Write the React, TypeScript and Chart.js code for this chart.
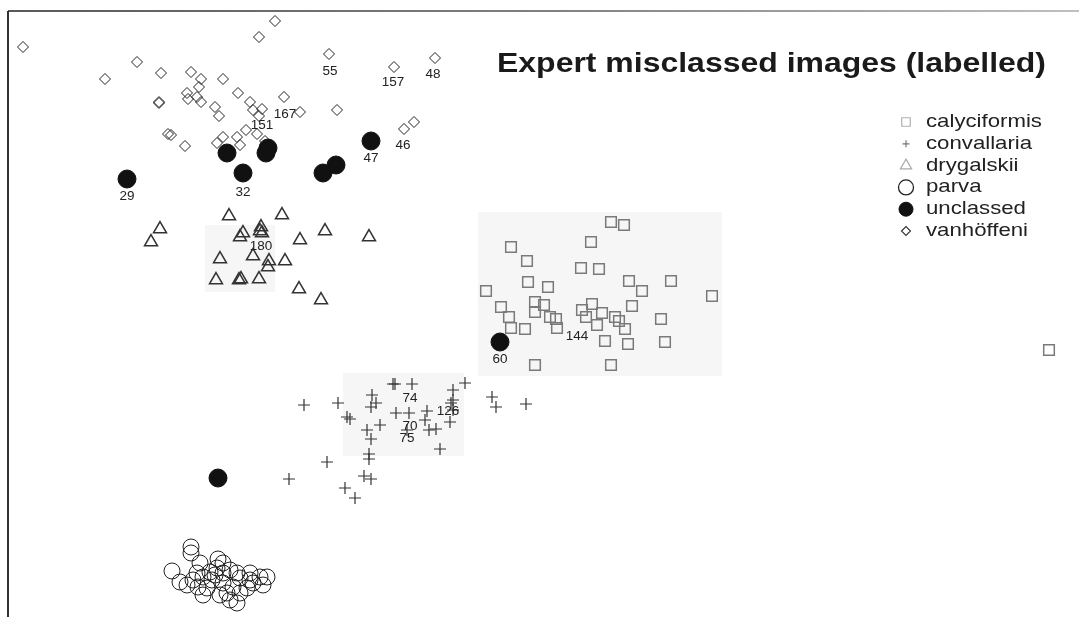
import React, { useEffect, useRef } from 'react';
import { Chart, registerables } from 'chart.js';
import { drawPoint } from 'chart.js/helpers';

Chart.register(...registerables);

type Pt = [number, number];

const titleText = 'Expert misclassed images (labelled)';

const categories = ['calyciformis', 'convallaria', 'drygalskii', 'parva', 'unclassed', 'vanhöffeni'];

const calyciformis: Pt[] = [
  [61.1, 39.5], [62.4, 39.2], [59.1, 37.5], [51.1, 37.0], [52.7, 35.6], [52.8, 33.5], [54.8, 33.0],
  [48.6, 32.6], [58.1, 34.9], [59.9, 34.8], [62.9, 33.6], [64.2, 32.6], [67.1, 33.6], [71.2, 32.1],
  [50.1, 31.0], [53.5, 31.5], [54.4, 31.2], [53.5, 30.5], [55.0, 30.0], [55.7, 28.9], [55.6, 29.8],
  [50.9, 30.0], [51.1, 28.9], [52.5, 28.8], [58.2, 30.7], [59.2, 31.3], [58.6, 30.0], [59.7, 29.2],
  [60.2, 30.4], [61.5, 30.0], [61.9, 29.6], [62.5, 28.8], [63.2, 31.1], [60.5, 27.6], [62.8, 27.3],
  [66.1, 29.8], [66.5, 27.5], [53.5, 25.2], [61.1, 25.2], [104.9, 26.7],
];

const convallaria: Pt[] = [
  [39.5, 23.3], [39.3, 23.3], [41.2, 23.3], [46.5, 23.4], [45.3, 22.7], [30.4, 21.2], [33.8, 21.4],
  [37.2, 22.2], [37.1, 21.0], [37.6, 21.4], [45.3, 21.7], [45.1, 21.4], [49.2, 22.0], [49.6, 21.0],
  [52.6, 21.3], [34.7, 20.0], [35.0, 19.8], [38.0, 19.2], [39.6, 20.4], [40.9, 20.4], [42.7, 20.6],
  [45.3, 20.7], [42.5, 19.7], [45.0, 19.5], [42.9, 18.7], [43.6, 18.8], [36.7, 18.7], [37.1, 17.8],
  [40.7, 18.7], [44.0, 16.8], [36.9, 16.3], [36.9, 15.8], [32.7, 15.5], [28.9, 13.8], [36.4, 14.1],
  [37.1, 13.8], [34.5, 12.9], [35.5, 11.9],
];

const drygalskii: Pt[] = [
  [22.9, 40.1], [28.2, 40.2], [16.0, 38.8], [15.1, 37.5], [24.3, 38.4], [24.0, 38.0], [26.1, 39.0],
  [26.2, 38.4], [26.0, 38.6], [30.0, 37.7], [32.5, 38.6], [36.9, 38.0], [22.0, 35.8], [25.3, 36.1],
  [26.8, 35.0], [26.9, 35.6], [28.5, 35.6], [21.6, 33.7], [24.1, 33.8], [23.9, 33.7], [25.9, 33.8],
  [29.9, 32.8], [32.1, 31.7],
];

const parva: Pt[] = [
  [19.1, 7.0], [19.1, 6.4], [17.2, 4.6], [18.0, 3.5], [21.8, 5.8], [19.7, 4.4], [20.3, 4.0],
  [21.0, 4.5], [21.7, 4.9], [22.3, 4.4], [23.0, 4.7], [23.7, 4.4], [24.0, 3.9], [25.0, 4.4],
  [26.0, 4.0], [26.7, 4.0], [26.3, 3.2], [18.7, 3.2], [19.8, 3.0], [20.7, 2.9], [22.3, 3.4],
  [23.3, 3.0], [20.3, 2.2], [22.0, 2.2], [23.0, 1.7], [24.7, 2.9], [25.0, 3.7], [19.3, 3.7],
  [21.2, 3.7], [24.0, 2.4], [22.7, 2.4], [23.7, 1.4], [21.5, 4.2], [20.0, 5.4], [22.3, 5.4],
  [25.3, 3.4],
];

const unclassed: Pt[] = [
  [12.7, 43.8], [22.7, 46.4], [24.3, 44.4], [26.8, 46.9], [26.6, 46.4], [37.1, 47.6], [33.6, 45.2],
  [32.3, 44.4], [50.0, 27.5], [21.8, 13.9],
];

const vanhoffeni: Pt[] = [
  [2.3, 57.0], [27.5, 59.6], [25.9, 58.0], [32.9, 56.3], [39.4, 55.0], [43.5, 55.9], [13.7, 55.5],
  [10.5, 53.8], [16.1, 54.4], [19.1, 54.5], [20.1, 53.8], [19.9, 53.0], [22.3, 53.8], [18.7, 52.4],
  [18.8, 51.8], [19.7, 52.0], [20.1, 51.5], [15.9, 51.4], [15.9, 51.5], [23.8, 52.4], [25.0, 51.5],
  [25.3, 50.7], [26.2, 50.8], [25.9, 50.1], [28.4, 52.0], [30.0, 50.5], [33.7, 50.7], [21.5, 51.0],
  [21.9, 50.1], [24.6, 48.7], [25.7, 48.3], [17.1, 48.2], [16.8, 48.3], [18.5, 47.1], [22.3, 48.0],
  [21.7, 47.4], [23.7, 48.0], [24.0, 47.2], [26.5, 47.6], [40.4, 48.8], [41.4, 49.5],
];

// point labels: text, x, y
const labelTexts = ['29', '32', '47', '46', '55', '157', '48', '151', '167', '180', '60', '144', '74', '126', '70', '75'];
const labelX = [12.7, 24.3, 37.1, 40.3, 33.0, 39.3, 43.3, 26.2, 28.5, 26.1, 50.0, 57.7, 41.0, 44.8, 41.0, 40.7];
const labelY = [42.0, 42.4, 45.8, 47.1, 54.5, 53.4, 54.2, 49.1, 50.2, 37.0, 25.7, 28.0, 21.8, 20.5, 19.0, 17.8];

// faint shaded patches behind clusters: [xMin, xMax, yMin, yMax]
const patches: [number, number, number, number][] = [
  [20.5, 27.5, 32.5, 39.2],
  [47.8, 72.2, 24.1, 40.5],
  [34.3, 46.4, 16.1, 24.4],
];

const FONT = '"Liberation Sans", Arial, Helvetica, sans-serif';

const legendStyles = [
  { pointStyle: 'rect', radius: 6, stroke: '#b0b0b0', fill: 'rgba(0,0,0,0)', lw: 1.2 },
  { pointStyle: 'cross', radius: 3.5, stroke: '#777', fill: 'rgba(0,0,0,0)', lw: 1.2 },
  { pointStyle: 'triangle', radius: 6.5, stroke: '#aaa', fill: 'rgba(0,0,0,0)', lw: 1.2 },
  { pointStyle: 'circle', radius: 7.5, stroke: '#222', fill: 'rgba(0,0,0,0)', lw: 1.3 },
  { pointStyle: 'circle', radius: 7, stroke: '#111', fill: '#111', lw: 1 },
  { pointStyle: 'rectRot', radius: 4.5, stroke: '#333', fill: 'rgba(0,0,0,0)', lw: 1.1 },
];

function stretchedText(ctx: CanvasRenderingContext2D, text: string, x: number, y: number, sx: number) {
  ctx.save();
  ctx.translate(x, y);
  ctx.scale(sx, 1);
  ctx.fillText(text, 0, 0);
  ctx.restore();
}

const decorPlugin = {
  id: 'decor',
  beforeDatasetsDraw(chart: any) {
    const { ctx, scales, chartArea } = chart;
    const xs = scales.x;
    const ys = scales.y;
    ctx.save();
    ctx.fillStyle = '#f6f6f6';
    for (const [x0, x1, y0, y1] of patches) {
      const px0 = xs.getPixelForValue(x0);
      const px1 = xs.getPixelForValue(x1);
      const py0 = ys.getPixelForValue(y1);
      const py1 = ys.getPixelForValue(y0);
      ctx.fillRect(px0, py0, px1 - px0, py1 - py0);
    }
    // frame lines (left and top)
    ctx.lineWidth = 2;
    ctx.strokeStyle = '#333';
    ctx.beginPath();
    ctx.moveTo(chartArea.left, chartArea.top);
    ctx.lineTo(chartArea.left, chartArea.bottom);
    ctx.stroke();
    const grad = ctx.createLinearGradient(chartArea.left, 0, chartArea.right, 0);
    grad.addColorStop(0, '#222');
    grad.addColorStop(0.5, '#555');
    grad.addColorStop(1, '#aaa');
    ctx.strokeStyle = grad;
    ctx.lineWidth = 1.5;
    ctx.beginPath();
    ctx.moveTo(chartArea.left, chartArea.top);
    ctx.lineTo(chartArea.right, chartArea.top);
    ctx.stroke();
    ctx.restore();
  },
  afterDatasetsDraw(chart: any) {
    const { ctx, scales } = chart;
    const xs = scales.x;
    const ys = scales.y;
    ctx.save();
    // point labels
    ctx.fillStyle = '#222';
    ctx.font = `12.5px ${FONT}`;
    ctx.textAlign = 'center';
    ctx.textBaseline = 'middle';
    labelTexts.forEach((t, i) => {
      stretchedText(ctx, t, xs.getPixelForValue(labelX[i]), ys.getPixelForValue(labelY[i]), 1.08);
    });
    // title
    ctx.font = `bold 27px ${FONT}`;
    ctx.textAlign = 'left';
    ctx.textBaseline = 'alphabetic';
    ctx.fillStyle = '#1a1a1a';
    const tw = ctx.measureText(titleText).width;
    stretchedText(ctx, titleText, 497, 72, 549 / tw);
    // legend
    ctx.font = `18.5px ${FONT}`;
    ctx.textBaseline = 'middle';
    categories.forEach((name, i) => {
      const cy = 122 + i * 21.8;
      const st = legendStyles[i];
      ctx.strokeStyle = st.stroke;
      ctx.fillStyle = st.fill;
      ctx.lineWidth = st.lw;
      drawPoint(ctx, { pointStyle: st.pointStyle as any, radius: st.radius, rotation: 0, borderWidth: st.lw }, 906, cy);
      ctx.fillStyle = '#222';
      stretchedText(ctx, name, 926, cy, 1.2);
    });
    ctx.restore();
  },
};

export default function App() {
  const ref = useRef<HTMLCanvasElement | null>(null);
  useEffect(() => {
    if (!ref.current) return;
    const toXY = (arr: Pt[]) => arr.map(([x, y]) => ({ x, y }));
    const chart = new Chart(ref.current, {
      type: 'scatter',
      data: {
        datasets: [
          {
            label: categories[0], data: toXY(calyciformis), pointStyle: 'rect', pointRadius: 7.5,
            borderColor: '#7a7a7a', backgroundColor: 'rgba(0,0,0,0)', borderWidth: 1.5, order: 2, clip: false,
          },
          {
            label: categories[1], data: toXY(convallaria), pointStyle: 'cross', pointRadius: 6,
            borderColor: '#333', backgroundColor: 'rgba(0,0,0,0)', borderWidth: 1.2, order: 2, clip: false,
          },
          {
            label: categories[2], data: toXY(drygalskii), pointStyle: 'triangle', pointRadius: 7.5,
            borderColor: '#333', backgroundColor: 'rgba(0,0,0,0)', borderWidth: 1.5, order: 2, clip: false,
          },
          {
            label: categories[3], data: toXY(parva), pointStyle: 'circle', pointRadius: 8,
            borderColor: '#222', backgroundColor: 'rgba(0,0,0,0)', borderWidth: 1, order: 2, clip: false,
          },
          {
            label: categories[4], data: toXY(unclassed), pointStyle: 'circle', pointRadius: 9,
            borderColor: '#111', backgroundColor: '#111', borderWidth: 1, order: 0, clip: false,
          },
          {
            label: categories[5], data: toXY(vanhoffeni), pointStyle: 'rectRot', pointRadius: 5.5,
            borderColor: '#222', backgroundColor: 'rgba(0,0,0,0)', borderWidth: 1, order: 1, clip: false,
          },
        ],
      },
      options: {
        animation: false,
        responsive: false,
        maintainAspectRatio: false,
        events: [],
        layout: { autoPadding: false, padding: { left: 8, top: 11, right: 0, bottom: 0 } },
        scales: {
          x: { type: 'linear', display: false, min: 0.8, max: 107.9 },
          y: { type: 'linear', display: false, min: 0, max: 60.6 },
        },
        plugins: {
          legend: { display: false },
          tooltip: { enabled: false },
          title: { display: false },
        },
      },
      plugins: [decorPlugin],
    });
    return () => chart.destroy();
  }, []);
  return (
    <div style={{ position: 'fixed', left: 0, top: 0, width: 1079, height: 617, background: '#fff' }}>
      <canvas ref={ref} width={1079} height={617} style={{ display: 'block' }} />
    </div>
  );
}
